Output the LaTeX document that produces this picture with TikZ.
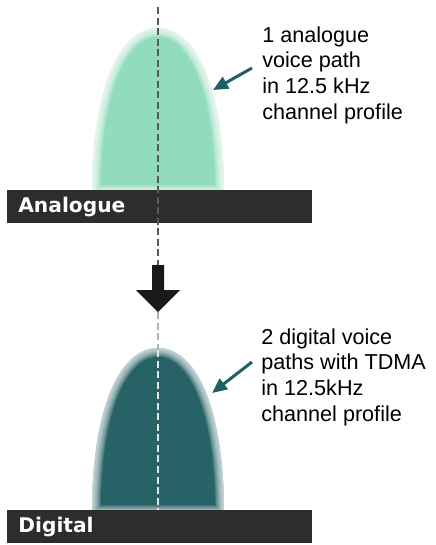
\documentclass[tikz,border=0pt]{standalone}
\usepackage{fontspec}
\setmainfont{Liberation Sans}
\newfontfamily\barfont{DejaVu Sans}
\usetikzlibrary{arrows.meta}
\definecolor{mint}{RGB}{146,220,190}
\definecolor{deepteal}{RGB}{38,98,102}
\definecolor{pointer}{RGB}{30,96,100}
\definecolor{barcol}{RGB}{45,45,45}
\newcommand{\profile}[1]{(92,#1) .. controls (92,#1-112) and (122,#1-166) .. (158,#1-166) .. controls (194,#1-166) and (224,#1-112) .. (224,#1) -- cycle}
\tikzset{
  barbox/.style={fill=barcol, text=white, anchor=north west, minimum width=6.1cm, minimum height=0.66cm,
    text width=5.66cm, align=left, inner xsep=0.22cm, font=\barfont\bfseries\fontsize{11.5}{13}\selectfont},
  note/.style={anchor=north west, inner sep=0pt, align=left, font=\fontsize{12.3}{14.7}\selectfont},
  pointer/.style={draw=pointer, line width=1.7pt, -{Triangle[length=3mm,width=2.6mm]}},
  centre/.style={line width=1.4pt, dash pattern=on 4pt off 2pt}
}
\begin{document}
\begin{tikzpicture}[x=0.02cm, y=-0.02cm]
    \useasboundingbox (0,0) rectangle (436,545);
    \begin{scope} % analog
    \clip \profile{194};
    \fill[mint] (80,20) rectangle (240,195);
    \foreach \w in {1,...,10} \draw[white, opacity=.14, line width=\w pt] \profile{194};
    \end{scope}
    \begin{scope} % digital
    \clip \profile{514};
    \fill[deepteal] (80,340) rectangle (240,515);
    \foreach \w in {1,...,10} \draw[white, opacity=.12, line width=\w pt] \profile{514};
    \end{scope}
    \node[barbox] (analogue) at (7,190) {Analogue};
    \node[barbox] (digital) at (7,510) {Digital};
    \node[note] (analoguetext) at (262,26) {1 analogue\\voice path\\in 12.5 kHz\\channel profile};
    \node[note] (digitaltext) at (261,328) {2 digital voice\\paths with TDMA\\in 12.5kHz\\channel profile};
    \coordinate (linetop) at (158,7);
    \coordinate (arrowtop) at (158,265);
    \coordinate (arrowtip) at (158,312);
    \coordinate (digitop) at (158,350);
    \coordinate (digibase) at (158,510);
    \draw[centre, draw=black!65] (linetop) -- (arrowtop); %oben
    \draw[centre, draw=black!30] (arrowtip) -- (digitop);
    \draw[centre, draw=white!80!gray] (digitop) -- (digibase); %im Profil
    \fill[black!90] (152,265) -- (164,265) -- (164,290) -- (180,290) -- (arrowtip) -- (136,290) -- (152,290) -- cycle;
    \coordinate (p1) at (252,68);
    \coordinate (q1) at (213,90);
    \coordinate (p2) at (252,362);
    \coordinate (q2) at (212,393);
    \draw[pointer] (p1) -- (q1);
    \draw[pointer] (p2) -- (q2);
\end{tikzpicture}
\end{document}
